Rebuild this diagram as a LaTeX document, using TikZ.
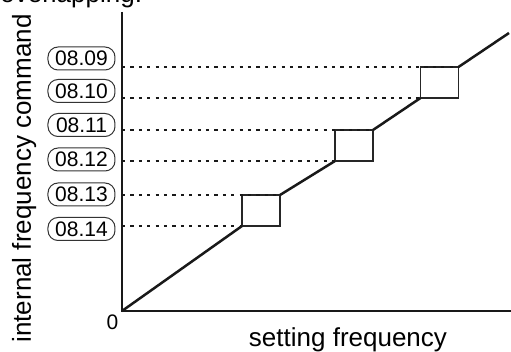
\documentclass[tikz,border=0pt]{standalone}
\usepackage{fontspec}
\setmainfont{Liberation Sans}
\usetikzlibrary{calc}

\begin{document}
\begin{tikzpicture}[
  x=0.5pt,y=-0.5pt,
  axis/.style={line width=1.4pt,draw=black!90},
  curve/.style={line width=1.25pt,draw=black!90},
  stepbox/.style={rectangle,draw=black!85,line width=0.8pt,
                  minimum width=19pt,minimum height=15.5pt,
                  inner sep=0pt,outer sep=0pt},
  guide/.style={line width=1pt,dash pattern=on 1.6pt off 2.6pt,draw=black!90},
  param/.style={rectangle,rounded corners=5pt,draw=black!80,line width=0.5pt,
                minimum width=33.5pt,minimum height=11.5pt,inner sep=0pt,
                font=\fontsize{10.5}{12}\selectfont},
  small/.style={font=\fontsize{10.5}{12}\selectfont,inner sep=0pt},
  title/.style={font=\fontsize{13}{15}\selectfont,inner sep=0pt}
]
  \useasboundingbox (0,0) rectangle (511,352);
  \clip (0,0) rectangle (511,352);

  \node[title,anchor=base west] (note) at (0,3) {overlapping.};

  \coordinate (org)  at (122,311);
  \coordinate (ytop) at (122,12);
  \coordinate (xend) at (511,311);
  \coordinate (tail) at (509,33);

  % parameter labels
  \foreach \t/\y [count=\i] in {08.09/58.5,08.10/91,08.11/125,
                                08.12/159.5,08.13/194.5,08.14/229}{
    \node[param] (p\i) at (81.5,\y) {\t};
  }

  % steps of the curve
  \node[stepbox] (s1) at (261,210.5) {};
  \node[stepbox] (s2) at (354,145.5) {};
  \node[stepbox] (s3) at (439.5,82.5) {};

  \foreach \s in {s1,s2,s3}{
    \draw[guide] (\s.north west -| org) -- (\s.north east);
    \draw[guide] (\s.south west -| org) -- (\s.south west);
  }

  \draw[axis] (ytop) -- (org) -- (xend);
  \draw[curve] (org) -- (s1.south west)
               (s1.north east) -- (s2.south west)
               (s2.north east) -- (s3.south west)
               (s3.north east) -- (tail);

  \node[title,rotate=90,anchor=base] (ylab) at (31,178.5) {internal frequency command};
  \node[title,anchor=base] (xlab) at (348,347) {setting frequency};
  \node[small,anchor=base] (zero) at (112.5,330) {0};
\end{tikzpicture}
\end{document}
